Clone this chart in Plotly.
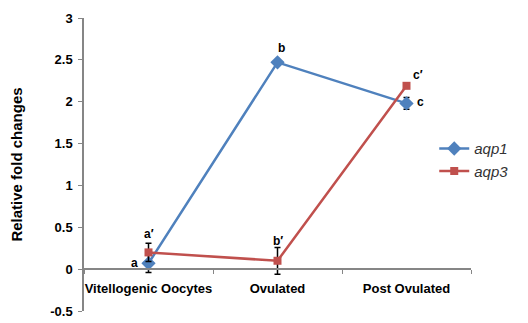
import plotly.graph_objects as go

categories = ["Vitellogenic Oocytes", "Ovulated", "Post Ovulated"]
aqp1 = [0.07, 2.47, 1.98]
aqp1_err = [0.11, 0.0, 0.07]
aqp3 = [0.20, 0.10, 2.19]
aqp3_err = [0.11, 0.16, 0.0]
aqp1_letters = ["a", "b", "c"]
aqp3_letters = ["a′", "b′", "c′"]

blue = "#4F81BD"
red = "#C0504D"
axis_col = "#868686"
font_fam = "Liberation Sans, Arial, sans-serif"

fig = go.Figure()
fig.add_trace(go.Scatter(
    x=categories, y=aqp1, name="aqp1", mode="lines+markers",
    line=dict(color=blue, width=2.5),
    marker=dict(symbol="diamond", size=11, color=blue),
    error_y=dict(type="data", array=aqp1_err, color="black", thickness=1.5, width=3),
))
fig.add_trace(go.Scatter(
    x=categories, y=aqp3, name="aqp3", mode="lines+markers",
    line=dict(color=red, width=2.5),
    marker=dict(symbol="square", size=8, color=red),
    error_y=dict(type="data", array=aqp3_err, color="black", thickness=1.5, width=3),
))

# letter annotations
offsets1 = [(-14, 0), (4, -14), (14, -1)]
offsets3 = [(0, -18), (0, -20), (11, -11)]
for i, c in enumerate(categories):
    dx, dy = offsets1[i]
    fig.add_annotation(x=c, y=aqp1[i], text=aqp1_letters[i], showarrow=False,
                       xshift=dx, yshift=-dy,
                       font=dict(size=12, color="black", family=font_fam, weight="bold"),
                       xref="x", yref="y")
    dx, dy = offsets3[i]
    fig.add_annotation(x=c, y=aqp3[i], text=aqp3_letters[i], showarrow=False,
                       xshift=dx, yshift=-dy,
                       font=dict(size=12, color="black", family=font_fam, weight="bold"),
                       xref="x", yref="y")

zero_pos = 0.5 / 3.5
fig.update_layout(
    width=528, height=323,
    margin=dict(l=84, r=57, t=18, b=12),
    paper_bgcolor="white", plot_bgcolor="white",
    font=dict(family=font_fam, size=12, color="black"),
    showlegend=True,
    legend=dict(x=0.905, y=0.61, xanchor="left", yanchor="top",
                font=dict(size=15, color="#333333", style="italic", weight="normal"),
                bgcolor="rgba(0,0,0,0)", tracegroupgap=6),
    xaxis=dict(
        type="category", range=[-0.5, 2.5], anchor="free", position=zero_pos,
        showline=True, linecolor=axis_col, linewidth=1.5,
        ticks="outside", tickson="boundaries", ticklen=4, tickcolor=axis_col,
        ticklabelstandoff=8, tickangle=0,
        showgrid=False, zeroline=False, automargin=False,
        tickfont=dict(size=13, weight="bold"),
    ),
    yaxis=dict(
        range=[-0.5, 3], tickvals=[-0.5, 0, 0.5, 1, 1.5, 2, 2.5, 3],
        ticktext=["-0.5", "0", "0.5", "1", "1.5", "2", "2.5", "3"],
        showline=True, linecolor=axis_col, linewidth=1.5,
        ticks="outside", ticklen=4, tickcolor=axis_col,
        ticklabelstandoff=3,
        showgrid=False, zeroline=False, automargin=False,
        tickfont=dict(size=13, weight="bold"),
        title=dict(text="Relative fold changes", font=dict(size=15, weight="bold"), standoff=24),
    ),
)
fig.write_html("out.html", config={"displayModeBar": False},
               post_script="document.body.style.margin='0';")
